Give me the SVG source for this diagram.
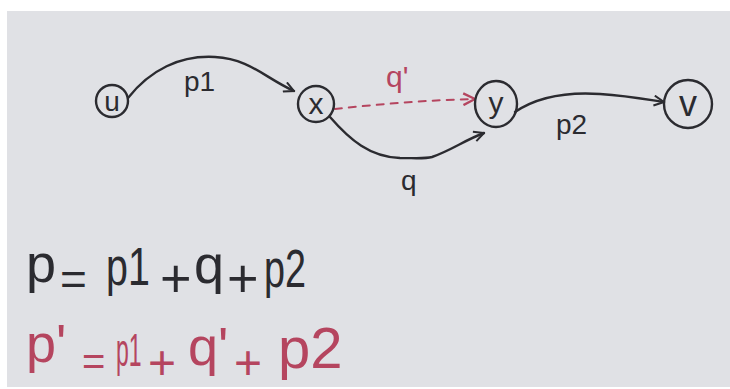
<svg xmlns="http://www.w3.org/2000/svg" width="730" height="389" viewBox="0 0 730 389">
<style>
.ink{stroke:#2b2b30;stroke-width:2.4;fill:none;stroke-linecap:round;stroke-linejoin:round}
.red{stroke:#b5455f;stroke-width:2;fill:none;stroke-linecap:round}
.t{font-family:"Liberation Sans","DejaVu Sans",sans-serif;fill:#2b2b30}
.tr{font-family:"Liberation Sans","DejaVu Sans",sans-serif;fill:#b5455f}
</style>
<defs>
<marker id="ab" viewBox="0 0 12 12" refX="11" refY="6" markerWidth="12" markerHeight="12" markerUnits="userSpaceOnUse" orient="auto">
<path d="M1,1 L11,6 L1,11" fill="none" stroke="#2b2b30" stroke-width="2"/>
</marker>
<marker id="ar" viewBox="0 0 12 12" refX="11" refY="6" markerWidth="14" markerHeight="14" markerUnits="userSpaceOnUse" orient="auto">
<path d="M1,1 L11,6 L1,11" fill="none" stroke="#b5455f" stroke-width="2"/>
</marker>
</defs>
<rect width="730" height="389" fill="#ffffff"/>
<rect x="7" y="11" width="723" height="376" fill="#e0e1e5"/>

<g id="connectors">
<path class="ink" d="M128,98 C150,70 180,55 215,57 C250,59 265,78 294,91" marker-end="url(#ab)"/>
<path class="red" stroke-dasharray="7,7" d="M335,109 C380,104 430,100 475,99" marker-end="url(#ar)"/>
<path class="ink" d="M330,117 C350,140 370,157 400,158 C415,158 425,159 432,157 C452,150 465,140 484,133" marker-end="url(#ab)"/>
<path class="ink" d="M515,112 C540,95 570,92 600,94 C630,96 650,100 664,102" marker-end="url(#ab)"/>
<text class="t" x="184" y="91" font-size="28">p1</text>
<text class="tr" x="386" y="87" font-size="30">q'</text>
<text class="t" x="401" y="190" font-size="28">q</text>
<text class="t" x="556" y="134" font-size="28">p2</text>
</g>

<g id="node-u">
<circle class="ink" cx="112" cy="101" r="16"/>
<text class="t" x="112" y="111" font-size="28" text-anchor="middle">u</text>
</g>
<g id="node-x">
<circle class="ink" cx="316" cy="104" r="18"/>
<text class="t" x="316" y="114" font-size="30" text-anchor="middle">x</text>
</g>
<g id="node-y">
<ellipse class="ink" cx="496" cy="104" rx="21" ry="23"/>
<text class="t" x="496" y="113" font-size="30" text-anchor="middle">y</text>
</g>
<g id="node-v">
<circle class="ink" cx="688" cy="104" r="24"/>
<text class="t" x="688" y="116" font-size="36" text-anchor="middle">v</text>
</g>

<g id="eq1" class="t">
<text x="26" y="282" font-size="54">p</text>
<text x="60" y="295" font-size="46">=</text>
<text transform="translate(106,285) scale(0.73,1)" font-size="54">p1</text>
<text x="160" y="297" font-size="54">+</text>
<text x="194" y="283" font-size="54">q</text>
<text x="227" y="297" font-size="54">+</text>
<text transform="translate(264,287) scale(0.7,1)" font-size="54">p2</text>
</g>
<g id="eq2" class="tr">
<text x="26" y="362" font-size="54">p'</text>
<text x="82" y="375" font-size="40">=</text>
<text transform="translate(116,366) scale(0.5,1)" font-size="46">p1</text>
<text x="148" y="379" font-size="48">+</text>
<text x="188" y="365" font-size="54">q'</text>
<text x="234" y="379" font-size="48">+</text>
<text x="278" y="368" font-size="58">p2</text>
</g>
</svg>
